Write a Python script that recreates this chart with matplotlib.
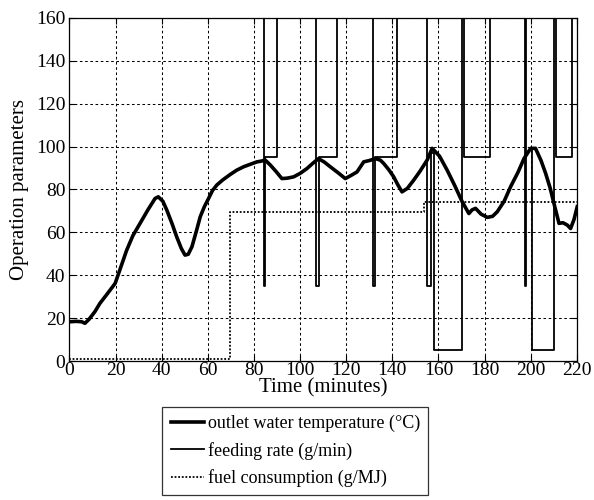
import numpy as np
import matplotlib
matplotlib.use("Agg")
import matplotlib.pyplot as plt

plt.rcParams['font.family'] = ['Liberation Serif', 'DejaVu Serif']

# ------------------------------------------------------------------
# data

# outlet water temperature (deg C)
temp_t = [0, 3, 5.3, 6.7, 8.5, 11, 13.2, 16.5, 19.8, 22, 24.8, 27.5, 30.6, 34, 37.1, 38.5,
          40.5, 42.2, 44.5, 46.5, 48.5, 50.1, 51.5, 53.1, 55, 56.7, 58.5, 60.3, 62, 63.9,
          66.5, 69.7, 72.5, 75.5, 78.5, 81.3, 83, 84.9, 87.1, 89.5, 92.1, 94.5, 97.2, 100,
          103, 105.5, 108, 110.5, 113.1, 116.5, 119.6, 122, 124.7, 127.6, 130, 132.7, 134.8,
          136.3, 138.5, 140.6, 142.5, 144.2, 146.5, 149.3, 152, 155.1, 157.3, 160.5, 163.8,
          167, 170.3, 173.2, 174.6, 176.1, 178.5, 181.2, 183.5, 185.5, 188.5, 191.3, 194.5,
          197.1, 200, 202.1, 204.5, 206.5, 208.5, 210.1, 212.3, 214, 215.9, 217.3, 218.8, 220.2]
temp_v = [18.3, 18.5, 18.3, 17.6, 19.5, 23, 26.9, 31.5, 36.2, 43, 51.7, 58.5, 64.2, 70.5, 75.8, 76.6,
          74.5, 70.4, 64, 57.9, 52.5, 49.4, 49.8, 53.3, 60.5, 67.3, 72, 75.8, 79.5, 82.1,
          84.5, 87, 89, 90.6, 91.8, 92.9, 93.2, 93.7, 91.4, 88.5, 85.1, 85.3, 85.9, 87.5,
          89.8, 92.2, 94.4, 92.8, 90.6, 87.8, 85.1, 86.5, 88.2, 92.9, 93.5, 94.4, 93.7,
          92.1, 89.2, 85.9, 82, 78.9, 80.5, 84.4, 88.5, 93.7, 99.2, 95.5, 89,
          82, 74.3, 68.8, 70.5, 71.2, 68.5, 67, 67.5, 69.6, 74.5, 81.3, 88,
          94.4, 99.2, 99.2, 93.5, 87.5, 80.5, 73.5, 64.2, 64.5, 63.4, 61.8, 66, 72]

# feeding rate (g/min), 200 = above the plotted range
feed_t = [0, 84.2, 84.2, 84.7, 84.7, 90.2, 90.2,
          107.0, 107.0, 108.2, 108.2, 116.0, 116.0,
          131.5, 131.5, 132.5, 132.5, 142.0, 142.0,
          155.1, 155.1, 156.6, 156.6, 157.9, 157.9, 170.3, 170.3, 171.0, 171.0, 182.3, 182.3,
          197.4, 197.4, 198.1, 198.1, 199.0,
          200.4, 200.4, 210.1, 210.1, 210.8, 210.8, 217.8, 217.8, 220]
feed_v = [200, 200, 35, 35, 95, 95, 200,
          200, 35, 35, 95, 95, 200,
          200, 35, 35, 95, 95, 200,
          200, 35, 35, 97, 97, 5, 5, 200, 200, 95, 95, 200,
          200, 35, 35, 200, np.nan,
          99, 5, 5, 200, 200, 95, 95, 200, 200]

# fuel consumption (g/MJ)
fuel_t = [0, 69.8, 69.8, 153.6, 153.6, 220]
fuel_v = [1, 1, 69.6, 69.6, 74.3, 74.3]

xticks = np.arange(0, 221, 20)
yticks = np.arange(0, 161, 20)

# ------------------------------------------------------------------
fig = plt.figure(figsize=(5.94, 5.0), dpi=100)
ax = fig.add_axes([0.117, 0.278, 0.854, 0.686])

l1, = ax.plot(temp_t, temp_v, color='black', lw=2.6, solid_joinstyle='round',
              label='outlet water temperature (\u00b0C)', zorder=4)
l2, = ax.plot(feed_t, feed_v, color='black', lw=1.3, label='feeding rate (g/min)', zorder=3)
l3, = ax.plot(fuel_t, fuel_v, color='black', lw=1.3, linestyle=(0, (1, 1)),
              label='fuel consumption (g/MJ)', zorder=3)

ax.set_xlim(0, 220)
ax.set_ylim(0, 160)
ax.set_xticks(xticks)
ax.set_yticks(yticks)
ax.grid(True, color='black', linestyle=(0, (2.5, 2.5)), lw=0.75)
ax.set_axisbelow(True)
ax.tick_params(direction='in', top=True, right=True, labelsize=14, length=4)
ax.tick_params(axis='x', pad=1)
ax.tick_params(axis='y', pad=3)
for s in ax.spines.values():
    s.set_linewidth(0.9)

ax.set_xlabel('Time (minutes)', fontsize=15, labelpad=-1)
ax.set_ylabel('Operation parameters', fontsize=15, labelpad=5)

leg = fig.legend(handles=[l1, l2, l3], loc='upper center', bbox_to_anchor=(0.497, 0.186),
                 fontsize=13, frameon=True, fancybox=False, edgecolor='black',
                 handlelength=1.85, handletextpad=0.2, borderpad=0.45, labelspacing=0.52,
                 borderaxespad=0)
leg.get_frame().set_linewidth(0.9)

fig.savefig('out.png', dpi=100)
